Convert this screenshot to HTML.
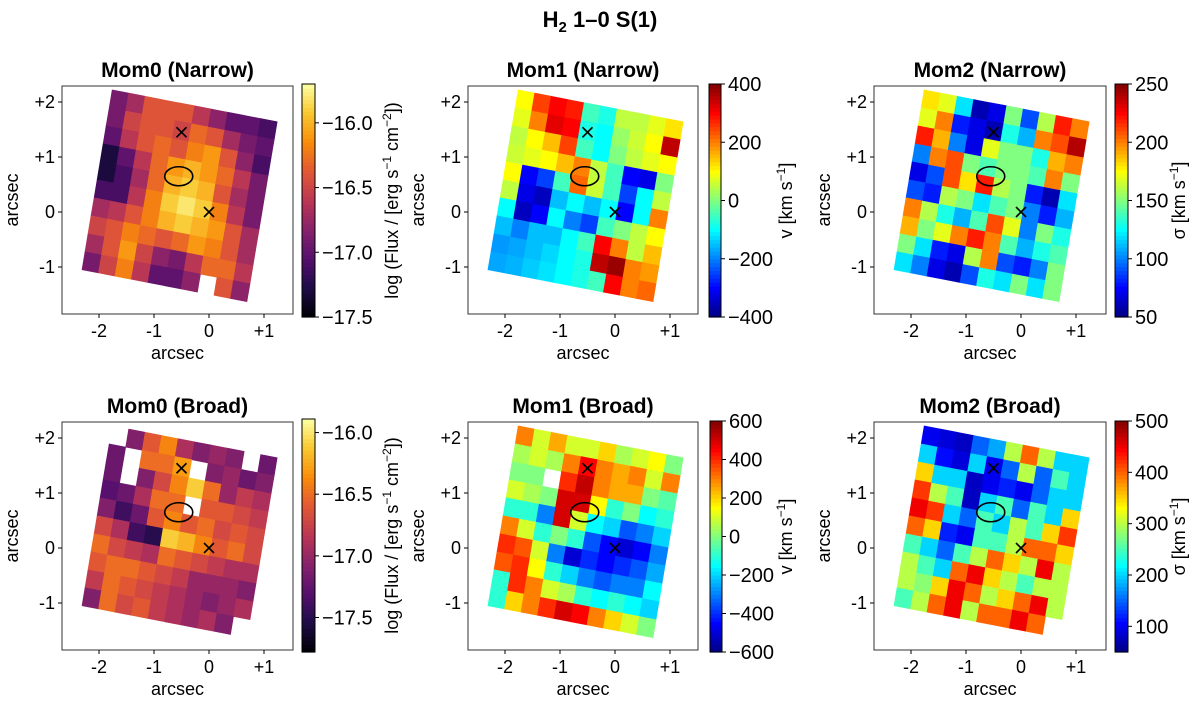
<!DOCTYPE html>
<html><head><meta charset="utf-8"><style>
body{margin:0;background:#fff}
svg text{font-family:"Liberation Sans","DejaVu Sans",sans-serif;fill:#000}
</style></head><body>
<svg id="fig" width="1200" height="704" viewBox="0 0 1200 704" xmlns="http://www.w3.org/2000/svg">
<text x="600" y="27" font-size="22" font-weight="bold" text-anchor="middle">H<tspan font-size="15" dy="5">2</tspan><tspan dy="-5"> 1–0 S(1)</tspan></text>
</svg>
<script>
const mom0Narrow=[
[-16.9,-16.7,-16.4,-16.4,-16.4,-16.6,-16.8,-17.0,-17.0,-17.1],
[-16.9,-16.5,-16.4,-16.4,-16.5,-16.3,-16.4,-16.7,-16.9,-17.0],
[-17.0,-16.6,-16.4,-16.3,-16.4,-16.2,-16.1,-16.4,-16.8,-17.1],
[-17.3,-17.0,-16.6,-16.3,-16.1,-16.0,-16.1,-16.3,-16.6,-16.9],
[-17.3,-17.1,-16.7,-16.3,-16.0,-15.9,-16.0,-16.4,-16.7,-16.9],
[-17.1,-17.1,-16.6,-16.2,-15.9,-15.8,-15.9,-16.2,-16.6,-16.9],
[-16.7,-16.6,-16.4,-16.2,-16.0,-15.9,-16.0,-16.1,-16.4,-16.7],
[-16.5,-16.4,-16.2,-16.3,-16.4,-16.3,-16.1,-16.2,-16.4,-16.7],
[-16.7,-16.4,-16.1,-16.5,-16.8,-16.9,-16.6,-16.3,-16.3,-16.6],
[-16.9,-16.5,-16.2,-16.6,-17.0,-17.0,-16.8,null,-16.4,-16.8]];
const mom1Narrow=[
[100,250,300,280,-50,-80,50,50,80,120],
[80,200,320,300,-80,-100,20,60,100,350],
[50,100,150,250,-50,-100,0,50,80,100],
[60,80,100,150,200,50,-50,-300,-320,0],
[100,-300,-250,-50,220,60,-50,-250,-100,50],
[50,-320,-350,-150,-100,-150,-100,-300,-100,200],
[-100,-350,-300,-100,-200,-250,-50,0,50,100],
[-150,-200,-150,-150,-100,-50,300,200,50,150],
[-180,-170,-150,-130,-100,-80,350,380,200,180],
[-170,-160,-140,-120,-100,-80,-50,300,200,220]];
const mom2Narrow=[
[180,170,120,60,70,150,90,160,220,200],
[170,200,80,70,60,130,110,200,210,240],
[220,190,100,70,170,150,150,130,190,200],
[100,200,210,150,140,150,150,140,200,150],
[70,90,210,180,220,160,150,80,60,120],
[90,80,160,150,120,140,150,100,80,110],
[200,160,130,110,140,210,170,100,150,130],
[190,150,170,200,220,200,140,110,130,140],
[150,120,80,70,160,200,90,80,100,150],
[120,100,70,60,90,130,120,150,120,150]];
const mom0Broad=[
[null,-17.1,-16.6,-16.4,-16.9,-17.1,-17.0,-17.1,null,-17.2],
[-17.2,null,-16.5,-16.5,-16.3,null,-17.1,-17.0,-17.2,-17.1],
[-17.2,null,-17.1,-16.7,-16.4,-16.1,-16.5,-17.0,-16.8,-16.9],
[-17.3,-17.2,-16.9,-16.5,-16.5,null,-16.6,-16.6,-16.7,-16.8],
[-17.1,-17.4,-17.2,-16.6,-16.4,-16.6,-16.5,-16.7,-16.6,-16.7],
[-16.7,-16.9,-17.4,-17.5,-16.1,-16.2,-16.4,-16.6,-16.5,-16.7],
[-16.5,-16.7,-16.8,-16.9,-16.5,-16.6,-16.7,-16.8,-16.9,-16.9],
[-16.6,-16.5,-16.5,-16.6,-16.7,-16.8,-17.0,-17.0,-17.0,-17.1],
[-16.8,-16.5,-16.6,-16.7,-16.8,-16.9,-17.0,-17.1,-17.0,-16.9],
[-17.1,-16.5,-16.7,-16.6,-16.8,-16.9,-17.0,-16.9,-17.1,null]];
const mom1Broad=[
[300,100,250,100,100,200,50,100,150,0],
[50,100,50,300,450,300,250,300,100,300],
[0,0,null,400,520,300,250,250,0,-50],
[100,50,0,500,500,150,-100,0,-150,-100],
[-100,-100,-300,500,100,-150,-200,-350,-300,-200],
[300,100,-100,0,-100,-350,-450,-500,-450,-300],
[400,350,100,-300,-500,-400,-450,-400,-350,-250],
[350,400,150,-100,-200,-300,-350,-300,-300,-150],
[-100,400,300,100,50,-100,-150,-100,-150,-200],
[-100,200,300,400,500,450,300,200,100,0]];
const mom2Broad=[
[100,90,80,150,180,300,400,300,200,200],
[200,110,90,200,100,150,300,150,250,200],
[350,200,200,80,100,120,100,150,200,200],
[420,300,250,80,200,250,150,250,200,350],
[450,420,200,150,250,200,300,250,350,420],
[400,350,120,100,250,250,300,400,400,350],
[250,200,150,250,300,400,350,300,450,300],
[300,250,200,400,450,350,300,250,300,300],
[300,280,350,450,400,300,350,400,450,300],
[250,300,400,450,300,400,400,450,400,null]];
const xTicks=[-2,-1,0,1];
const yTicks=[2,1,0,-1];
const tickLabel={"-2":"-2","-1":"-1","0":"0","1":"+1","2":"+2"};
const cb0NarrowTicks=[-16.0,-16.5,-17.0,-17.5];
const cb1NarrowTicks=[400,200,0,-200,-400];
const cb2NarrowTicks=[250,200,150,100,50];
const cb0BroadTicks=[-16.0,-16.5,-17.0,-17.5];
const cb1BroadTicks=[600,400,200,0,-200,-400,-600];
const cb2BroadTicks=[500,400,300,200,100];
const markerX=[-0.5,0];
const markerY=[1.45,0];
const ellipseCenter=[-0.55,0.65];

// ---- colormaps ----
const inf=[[0,0,0,4],[0.13,31,12,72],[0.25,85,15,109],[0.38,136,34,106],[0.5,186,54,85],[0.63,227,89,51],[0.75,249,140,10],[0.88,249,201,50],[1,252,255,164]];
function inferno(t){t=Math.max(0,Math.min(1,t));for(let i=1;i<inf.length;i++){if(t<=inf[i][0]){const a=inf[i-1],b=inf[i],f=(t-a[0])/(b[0]-a[0]);return `rgb(${Math.round(a[1]+f*(b[1]-a[1]))},${Math.round(a[2]+f*(b[2]-a[2]))},${Math.round(a[3]+f*(b[3]-a[3]))})`;}}return 'rgb(252,255,164)';}
function jet(t){t=Math.max(0,Math.min(1,t));const c=x=>Math.round(255*Math.max(0,Math.min(1,1.5-Math.abs(x))));return `rgb(${c(4*t-3)},${c(4*t-2)},${c(4*t-1)})`;}

const NS='http://www.w3.org/2000/svg';
const svg=document.getElementById('fig');
function el(tag,attrs,parent){const e=document.createElementNS(NS,tag);for(const k in attrs)e.setAttribute(k,attrs[k]);(parent||svg).appendChild(e);return e;}

const TL=[-1.76,2.22],TR=[1.24,1.64],BL=[-2.31,-1.05];
function corner(u,v){return [TL[0]+u*(TR[0]-TL[0])+v*(BL[0]-TL[0]),TL[1]+u*(TR[1]-TL[1])+v*(BL[1]-TL[1])];}

function panel(o){
  const g=el('g',{});
  
  
  const S=55;
  const X=a=>o.ox+a*S, Y=a=>o.oy-a*S;
  const [bx0,by0,bx1,by1]=o.box;
  const grid=o.data,n=grid.length,m=grid[0].length;
  const cmap=o.cmap;
  const norm=v=>(v-o.vmin)/(o.vmax-o.vmin);
  for(let i=0;i<n;i++)for(let j=0;j<m;j++){
    const v=grid[i][j]; if(v===null)continue;
    const p=[corner(j/m,i/n),corner((j+1)/m,i/n),corner((j+1)/m,(i+1)/n),corner(j/m,(i+1)/n)];
    const col=cmap(norm(v));
    const c=el('polygon',{points:p.map(q=>X(q[0]).toFixed(1)+','+Y(q[1]).toFixed(1)).join(' '),fill:col,stroke:col,'stroke-width':0.6},g);
    
    
  }
  for(let k=0;k<markerX.length;k++){
    const cx=X(markerX[k]),cy=Y(markerY[k]);
    const mk=el('path',{d:`M${cx-5},${cy-5}L${cx+5},${cy+5}M${cx-5},${cy+5}L${cx+5},${cy-5}`,stroke:'#000','stroke-width':1.6,fill:'none'},g);
    
    
  }
  const e=el('ellipse',{cx:X(ellipseCenter[0]),cy:Y(ellipseCenter[1]),rx:14,ry:9.5,fill:'none',stroke:'#000','stroke-width':1.6},g);
  
  
  const fr=el('rect',{x:bx0,y:by0,width:bx1-bx0,height:by1-by0,fill:'none',stroke:'#333','stroke-width':1},g);
  
  
  xTicks.forEach(t=>{const x=X(t);el('line',{x1:x,x2:x,y1:by1,y2:by1+4,stroke:'#000'},g);
    const tx=el('text',{x:x,y:by1+23,'font-size':18,'text-anchor':'middle'},g);tx.textContent=tickLabel[t];
    
    });
  yTicks.forEach(t=>{const y=Y(t);el('line',{x1:bx0-4,x2:bx0,y1:y,y2:y,stroke:'#000'},g);
    const tx=el('text',{x:bx0-7,y:y+6,'font-size':18,'text-anchor':'end'},g);tx.textContent=tickLabel[t];
    
    });
  const xl=el('text',{x:(bx0+bx1)/2,y:by1+45,'font-size':18,'text-anchor':'middle'},g);xl.textContent='arcsec';
  
  
  const yx=bx0-44,yy=(by0+by1)/2;
  const yl=el('text',{x:yx,y:yy,'font-size':18,'text-anchor':'middle',transform:`rotate(-90 ${yx} ${yy})`},g);yl.textContent='arcsec';
  
  
  const ti=el('text',{x:(bx0+bx1)/2,y:by0-9,'font-size':21,'font-weight':'bold','text-anchor':'middle'},g);ti.textContent=o.title;
  
  
  const [cx0,cy0,cx1,cy1]=o.cbar;
  const N=60;
  for(let s=0;s<N;s++){const yA=cy1-(s+1)*(cy1-cy0)/N;
    el('rect',{x:cx0,y:yA,width:cx1-cx0,height:(cy1-cy0)/N+0.6,fill:cmap((s+0.5)/N)},g);}
  const cf=el('rect',{x:cx0,y:cy0,width:cx1-cx0,height:cy1-cy0,fill:'none',stroke:'#000','stroke-width':1},g);
  
  
  const CY=v=>cy1-(v-o.vmin)/(o.vmax-o.vmin)*(cy1-cy0);
  o.ticks.forEach(t=>{const y=CY(t);el('line',{x1:cx1,x2:cx1+4,y1:y,y2:y,stroke:'#000'},g);
    const tx=el('text',{x:cx1+7,y:y+7,'font-size':20},g);tx.textContent=(t<0?'−':'')+Math.abs(t).toFixed(o.dec);
    
    });
  const lx=o.labelX,ly=(cy0+cy1)/2;
  const cl=el('text',{x:lx,y:ly,'font-size':18,'text-anchor':'middle',transform:`rotate(-90 ${lx} ${ly})`},g);
  cl.innerHTML=o.label;
  
  
}
const fluxLbl='log (Flux / [erg s<tspan dy="-7" font-size="12">−1</tspan><tspan dy="7"> cm</tspan><tspan dy="-7" font-size="12">−2</tspan><tspan dy="7">])</tspan>';
const velLbl='v [km s<tspan dy="-7" font-size="12">−1</tspan><tspan dy="7">]</tspan>';
const sigLbl='σ [km s<tspan dy="-7" font-size="12">−1</tspan><tspan dy="7">]</tspan>';
panel({name:'mom0-narrow-panel',title:'Mom0 (Narrow)',box:[62,86,293,314],ox:209,oy:212,data:mom0Narrow,cmap:inferno,vmin:-17.5,vmax:-15.7,cbar:[302,84,315,317],ticks:cb0NarrowTicks,dec:1,label:fluxLbl,labelX:398});
panel({name:'mom1-narrow-panel',title:'Mom1 (Narrow)',box:[468,86,698,314],ox:615,oy:212,data:mom1Narrow,cmap:jet,vmin:-400,vmax:400,cbar:[709,84,721,317],ticks:cb1NarrowTicks,dec:0,label:velLbl,labelX:792});
panel({name:'mom2-narrow-panel',title:'Mom2 (Narrow)',box:[874,86,1106,314],ox:1021,oy:212,data:mom2Narrow,cmap:jet,vmin:50,vmax:250,cbar:[1115,84,1128,317],ticks:cb2NarrowTicks,dec:0,label:sigLbl,labelX:1185});
panel({name:'mom0-broad-panel',title:'Mom0 (Broad)',box:[62,422,293,650],ox:209,oy:548,data:mom0Broad,cmap:inferno,vmin:-17.78,vmax:-15.89,cbar:[302,419,315,652],ticks:cb0BroadTicks,dec:1,label:fluxLbl,labelX:398});
panel({name:'mom1-broad-panel',title:'Mom1 (Broad)',box:[468,422,698,650],ox:615,oy:548,data:mom1Broad,cmap:jet,vmin:-600,vmax:600,cbar:[710,421,722,652],ticks:cb1BroadTicks,dec:0,label:velLbl,labelX:792});
panel({name:'mom2-broad-panel',title:'Mom2 (Broad)',box:[874,422,1106,650],ox:1021,oy:548,data:mom2Broad,cmap:jet,vmin:50,vmax:500,cbar:[1115,421,1128,652],ticks:cb2BroadTicks,dec:0,label:sigLbl,labelX:1185});
</script>
</body></html>
